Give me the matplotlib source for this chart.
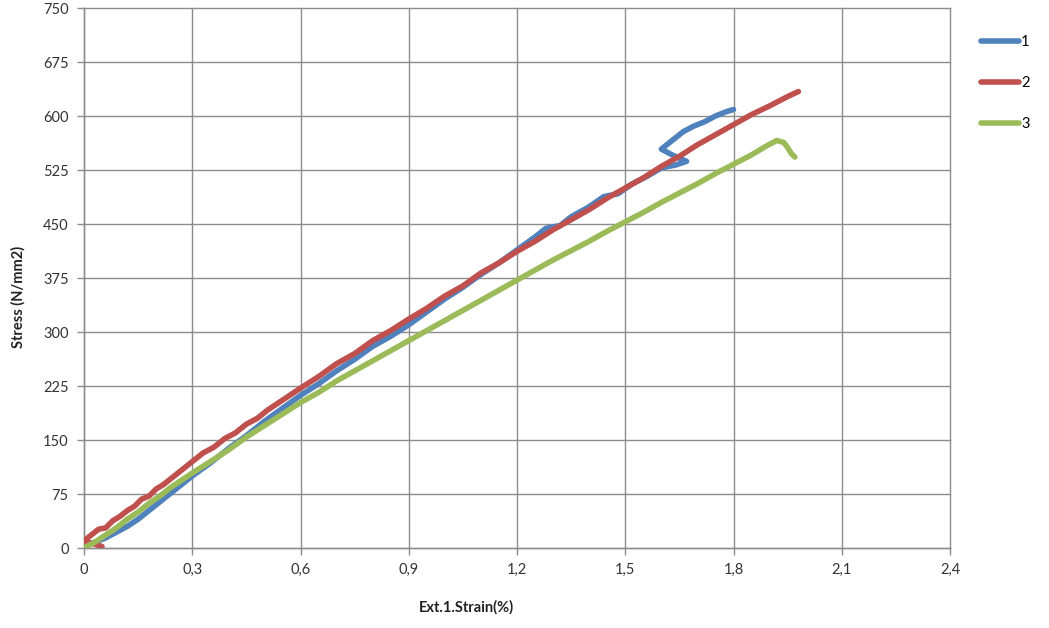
import matplotlib
matplotlib.use("Agg")
import matplotlib.pyplot as plt
import numpy as np

# Series 1
strain_1 = [0.00, 0.03, 0.06, 0.09, 0.12, 0.15, 0.18, 0.21, 0.24, 0.27, 0.30,
            0.35, 0.40, 0.45, 0.50, 0.55, 0.60, 0.65, 0.70, 0.75, 0.80, 0.85,
            0.90, 0.95, 1.00, 1.05, 1.10, 1.15, 1.20, 1.25, 1.28, 1.32, 1.35,
            1.40, 1.44, 1.48, 1.52, 1.56, 1.60, 1.64, 1.67, 1.63, 1.60, 1.63,
            1.66, 1.69, 1.72, 1.75, 1.78, 1.80]
stress_1 = [4, 8, 14, 22, 30, 40, 52, 64, 76, 88, 100,
            118, 138, 156, 176, 194, 212, 228, 246, 262, 280, 294,
            310, 328, 346, 362, 380, 396, 414, 432, 444, 448, 460,
            474, 488, 492, 506, 516, 528, 532, 537, 546, 554, 566,
            578, 586, 592, 600, 606, 609]

# Series 2
strain_2 = [0.05, 0.00, 0.02, 0.04, 0.06, 0.08, 0.10, 0.12, 0.14, 0.16, 0.18,
            0.20, 0.22, 0.24, 0.26, 0.28, 0.30, 0.33, 0.36, 0.39, 0.42, 0.45,
            0.48, 0.51, 0.54, 0.57, 0.60, 0.65, 0.70, 0.75, 0.80, 0.85, 0.90,
            0.95, 1.00, 1.05, 1.10, 1.15, 1.20, 1.25, 1.30, 1.35, 1.40, 1.45,
            1.50, 1.55, 1.60, 1.65, 1.70, 1.75, 1.80, 1.85, 1.90, 1.95, 1.98]
stress_2 = [2, 10, 18, 26, 28, 38, 44, 52, 58, 68, 72,
            82, 88, 96, 104, 112, 120, 132, 140, 152, 160, 172,
            180, 192, 202, 212, 222, 238, 256, 270, 288, 302, 318,
            333, 350, 364, 382, 396, 412, 426, 442, 456, 470, 486,
            500, 514, 530, 544, 560, 574, 588, 602, 614, 627, 634]

# Series 3
strain_3 = [0.00, 0.03, 0.06, 0.09, 0.12, 0.15, 0.18, 0.21, 0.24, 0.27, 0.30,
            0.35, 0.40, 0.45, 0.50, 0.55, 0.60, 0.65, 0.70, 0.75, 0.80, 0.85,
            0.90, 0.95, 1.00, 1.05, 1.10, 1.15, 1.20, 1.25, 1.30, 1.35, 1.40,
            1.45, 1.50, 1.55, 1.60, 1.65, 1.70, 1.75, 1.80, 1.85, 1.89, 1.92,
            1.94, 1.95, 1.96, 1.97]
stress_3 = [0, 8, 18, 28, 40, 50, 62, 72, 84, 94, 104,
            120, 136, 154, 170, 186, 202, 216, 232, 246, 260, 274,
            288, 302, 316, 330, 344, 358, 372, 386, 400, 413, 426,
            440, 453, 466, 480, 493, 506, 520, 533, 546, 558, 566,
            563, 556, 548, 543]

labels = ["1", "2", "3"]
colors = ["#4F81BD", "#C0504D", "#9BBB59"]

x_ticks = [0, 0.3, 0.6, 0.9, 1.2, 1.5, 1.8, 2.1, 2.4]
y_ticks = [0, 75, 150, 225, 300, 375, 450, 525, 600, 675, 750]

plt.rcParams["font.family"] = ["Lato", "DejaVu Sans"]

fig = plt.figure(figsize=(10.49, 6.28), dpi=100)
ax = fig.add_axes([84 / 1049, 1 - 548 / 628, 866 / 1049, 540 / 628])

series = [(strain_1, stress_1), (strain_2, stress_2), (strain_3, stress_3)]
for (xs, ys), lab, col in zip(series, labels, colors):
    ax.plot(xs, ys, color=col, linewidth=4.0, label=lab,
            solid_joinstyle="round", solid_capstyle="round", zorder=3)

ax.set_xlim(0, 2.4)
ax.set_ylim(0, 750)
ax.set_xticks(x_ticks)
ax.set_yticks(y_ticks)
ax.set_xticklabels(["0" if t == 0 else f"{t:.1f}".replace(".", ",") for t in x_ticks])
ax.set_yticklabels([str(t) for t in y_ticks])

grid_col = "#8C8C8C"
ax.grid(True, color=grid_col, linewidth=1.0, zorder=0)
ax.set_axisbelow(True)
for side in ["top", "right"]:
    ax.spines[side].set_visible(False)
for side in ["left", "bottom"]:
    ax.spines[side].set_color(grid_col)
    ax.spines[side].set_linewidth(1.0)
ax.tick_params(colors=grid_col, length=5, width=1, labelsize=10.5,
               labelcolor="#333333", pad=6)
for gl in ax.get_xgridlines() + ax.get_ygridlines():
    gl.set_clip_on(False)

ax.set_xlabel("Ext.1.Strain(%)", fontsize=10.5, fontweight="bold", color="#222222")
ax.set_ylabel("Stress (N/mm2)", fontsize=10.5, fontweight="bold", color="#222222")
ax.xaxis.set_label_coords((466 - 84) / 866, -(600 - 548) / 540)
ax.yaxis.set_label_coords(-(84 - 26) / 866, (548 - 297) / 540)

ax.legend(loc="upper left", bbox_to_anchor=(968 / 1049, 1 - 22 / 628),
          bbox_transform=fig.transFigure, frameon=False, fontsize=10.5,
          handlelength=2.6, handletextpad=0.15, labelspacing=1.85)

fig.savefig("out.png", dpi=100)
